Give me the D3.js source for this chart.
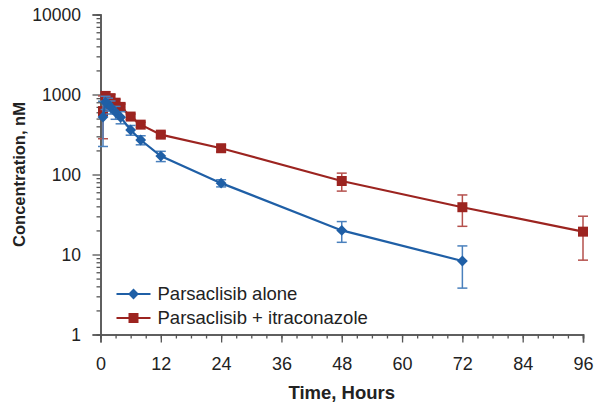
<!DOCTYPE html>
<html>
<head>
<meta charset="utf-8">
<script src="https://cdn.jsdelivr.net/npm/d3@7"></script>
<style>
  body { margin: 0; background: #fff; }
  svg { font-family: "Liberation Sans", Arial, sans-serif; }
</style>
</head>
<body>
<div id="chart"></div>
<script>
// time points (hours) and mean concentrations (nM) with SD
const timeAlone = [0.5, 1, 1.5, 2, 3, 4, 6, 8, 12, 24, 48, 72];
const concAlone = [524, 800, 760, 700, 600, 520, 360, 270, 170, 78, 20, 8.3];
const sdAlone   = [300, 150, 140, 130, 110, 90, 50, 35, 25, 8, 5.8, 4.5];

const timeItra = [0.5, 1, 2, 3, 4, 6, 8, 12, 24, 48, 72, 96];
const concItra = [620, 960, 900, 790, 700, 530, 420, 315, 213, 83, 39, 19.3];
const sdItra   = [340, 120, 100, 80, 60, 40, 30, 25, 20, 21, 16.5, 10.8];

const xTicks = [0, 12, 24, 36, 48, 60, 72, 84, 96];
const yTicks = [1, 10, 100, 1000, 10000];

const seriesNames = ["Parsaclisib alone", "Parsaclisib + itraconazole"];

var margin = {top: 14.5, right: 11, bottom: 68.5, left: 100.5},
    width = 594 - margin.left - margin.right,
    height = 403 - margin.top - margin.bottom;

var svg = d3.select("#chart")
  .append("svg")
    .attr("width", 594)
    .attr("height", 403)
  .append("g")
    .attr("transform", "translate(" + margin.left + "," + margin.top + ")");

var x = d3.scaleLinear().domain([0, 96]).range([0, width]);
var y = d3.scaleLog().domain([1, 10000]).range([height, 0]);

var axisColor = "#555";

// x axis: minor ticks every 3 h, major every 12 h
var xAxis = svg.append("g")
  .attr("transform", "translate(0," + height + ")");
xAxis.call(d3.axisBottom(x).tickValues(d3.range(0, 97, 3)).tickSize(4).tickFormat(""));
xAxis.append("g").call(d3.axisBottom(x).tickValues(xTicks).tickSize(8).tickFormat(d3.format("d")));
xAxis.selectAll("path").attr("stroke", axisColor).attr("stroke-width", 1.5);
xAxis.selectAll("line").attr("stroke", axisColor).attr("stroke-width", 1.3);
xAxis.selectAll("text")
  .attr("fill", "#222")
  .attr("font-size", "18px")
  .attr("y", 35.5)
  .attr("dy", null);

// y axis: log minor ticks
var minorY = [];
for (var d = 1; d < 10000; d *= 10) {
  for (var k = 2; k < 10; k++) minorY.push(d * k);
}
var yAxis = svg.append("g");
yAxis.call(d3.axisLeft(y).tickValues(minorY).tickSize(4).tickFormat(""));
yAxis.append("g").call(d3.axisLeft(y).tickValues(yTicks).tickSize(8).tickFormat(d3.format("d")));
yAxis.selectAll("path").attr("stroke", axisColor).attr("stroke-width", 1.5);
yAxis.selectAll("line").attr("stroke", axisColor).attr("stroke-width", 1.3);
yAxis.selectAll("text")
  .attr("fill", "#222")
  .attr("font-size", "17.5px")
  .attr("x", -19.5);

// axis titles
svg.append("text")
  .attr("x", width / 2)
  .attr("y", height + 64.5)
  .attr("text-anchor", "middle")
  .attr("font-size", "18.5px")
  .attr("font-weight", "bold")
  .attr("fill", "#222")
  .text("Time, Hours");

svg.append("text")
  .attr("transform", "translate(" + (-75.5) + "," + (height / 2) + ") rotate(-90)")
  .attr("text-anchor", "middle")
  .attr("font-size", "16.5px")
  .attr("font-weight", "bold")
  .attr("fill", "#222")
  .text("Concentration, nM");

function drawSeries(times, conc, sd, color, errColor, shape) {
  var data = times.map(function(t, i) { return {t: t, v: conc[i], sd: sd[i]}; });
  var g = svg.append("g");

  // error bars
  var eb = g.selectAll(".eb").data(data).enter().append("g");
  eb.append("line")
    .attr("x1", function(d) { return x(d.t); })
    .attr("x2", function(d) { return x(d.t); })
    .attr("y1", function(d) { return y(d.v + d.sd); })
    .attr("y2", function(d) { return y(Math.max(d.v - d.sd, 1)); })
    .attr("stroke", errColor).attr("stroke-width", 1.5);
  [1, -1].forEach(function(s) {
    eb.append("line")
      .attr("x1", function(d) { return x(d.t) - 5; })
      .attr("x2", function(d) { return x(d.t) + 5; })
      .attr("y1", function(d) { return y(s > 0 ? d.v + d.sd : Math.max(d.v - d.sd, 1)); })
      .attr("y2", function(d) { return y(s > 0 ? d.v + d.sd : Math.max(d.v - d.sd, 1)); })
      .attr("stroke", errColor).attr("stroke-width", 1.5);
  });

  g.append("path")
    .datum(data)
    .attr("fill", "none")
    .attr("stroke", color)
    .attr("stroke-width", 2.2)
    .attr("d", d3.line()
      .x(function(d) { return x(d.t); })
      .y(function(d) { return y(d.v); }));

  g.selectAll(".mk").data(data).enter().append("path")
    .attr("transform", function(d) { return "translate(" + x(d.t) + "," + y(d.v) + ")"; })
    .attr("d", shape)
    .attr("fill", color);
}

var diamond = d3.symbol().type(d3.symbolDiamond2).size(75)();
var square = d3.symbol().type(d3.symbolSquare).size(100)();

drawSeries(timeItra, concItra, sdItra, "#9c2420", "#b5504c", square);
drawSeries(timeAlone, concAlone, sdAlone, "#1f5fa6", "#4a80bd", diamond);

// legend
var legend = svg.append("g").attr("transform", "translate(16," + 279.5 + ")");
[["#1f5fa6", diamond], ["#9c2420", square]].forEach(function(s, i) {
  var row = legend.append("g").attr("transform", "translate(0," + (i * 24) + ")");
  row.append("line").attr("x1", 0).attr("x2", 34).attr("y1", 0).attr("y2", 0)
    .attr("stroke", s[0]).attr("stroke-width", 2.2);
  row.append("path").attr("transform", "translate(17,0)").attr("d", s[1]).attr("fill", s[0]);
  row.append("text")
    .attr("x", 41).attr("y", 0).attr("dy", "0.35em")
    .attr("font-size", "18.5px")
    .attr("fill", "#222")
    .text(seriesNames[i]);
});
</script>
</body>
</html>
